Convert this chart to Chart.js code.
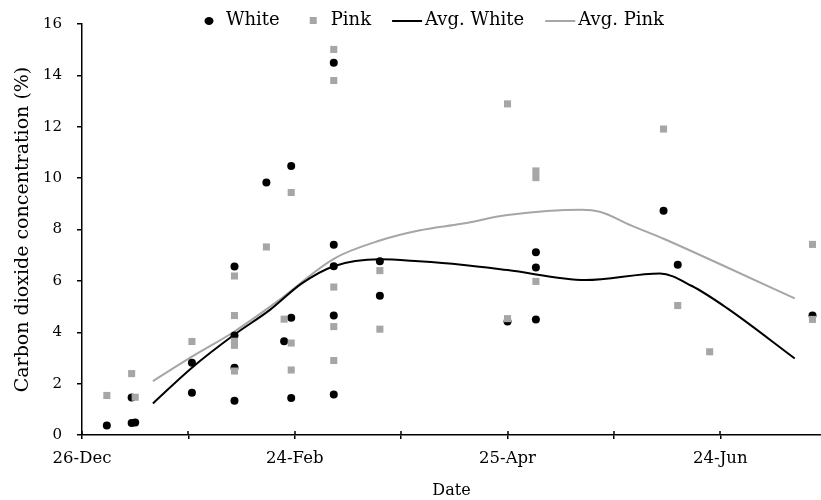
<!DOCTYPE html>
<html>
<head>
<meta charset="utf-8">
<script src="https://cdn.jsdelivr.net/npm/chart.js@4.4.1/dist/chart.umd.min.js"></script>
<style>
  html, body { margin: 0; padding: 0; background: #fff; }
</style>
</head>
<body>
<canvas id="chart" width="821" height="500"></canvas>
<script>
// x values are days counted from 26-Dec
const tickDays = [0, 30, 60, 90, 120, 150, 180];
const tickLabels = ['26-Dec', '', '24-Feb', '', '25-Apr', '', '24-Jun'];

const whiteDay = [7, 14, 14, 15, 31, 31, 43, 43, 43, 43, 52, 57, 59, 59, 59, 71, 71, 71, 71, 71, 84, 84, 120, 128, 128, 128, 164, 168, 206];
const whiteCO2 = [0.37, 1.46, 0.47, 0.49, 2.81, 1.64, 6.56, 3.87, 2.62, 1.33, 9.83, 3.65, 10.47, 4.56, 1.44, 14.49, 7.41, 6.57, 4.65, 1.58, 6.76, 5.42, 4.42, 7.11, 6.52, 4.50, 8.73, 6.63, 4.65];

const pinkDay = [7, 14, 15, 31, 43, 43, 43, 43, 43, 52, 57, 59, 59, 59, 71, 71, 71, 71, 71, 84, 84, 120, 120, 128, 128, 128, 164, 168, 177, 206, 206];
const pinkCO2 = [1.54, 2.39, 1.47, 3.64, 6.19, 4.65, 3.65, 3.49, 2.49, 7.32, 4.51, 9.44, 3.58, 2.53, 15.01, 13.80, 5.76, 4.22, 2.90, 6.40, 4.12, 12.89, 4.53, 10.28, 10.02, 5.98, 11.91, 5.04, 3.24, 7.42, 4.50];

const avgWhiteDay = [20, 31, 43, 53, 62, 71, 84, 95, 107, 120, 142, 163, 172, 182, 201];
const avgWhiteCO2 = [1.23, 2.62, 3.91, 4.87, 5.90, 6.57, 6.84, 6.76, 6.63, 6.42, 6.03, 6.29, 5.80, 4.93, 2.98];

const avgPinkDay = [20, 31, 43, 55, 71, 84, 95, 107, 120, 141, 146, 155, 164, 182, 201];
const avgPinkCO2 = [2.10, 3.05, 4.03, 5.19, 6.86, 7.57, 7.96, 8.22, 8.56, 8.77, 8.69, 8.15, 7.64, 6.52, 5.32];

const FONT = '"DejaVu Serif", serif';
const GREY = '#a6a6a6';

const toXY = (xs, ys) => xs.map((x, i) => ({ x: x, y: ys[i] }));

// legend drawn in one row over the top of the plot, like the original
const topLegend = {
    id: 'topLegend',
    afterDraw(chart) {
        const ctx = chart.ctx;
        const y = 20;
        let x = 205;
        ctx.save();
        ctx.font = '18px ' + FONT;
        ctx.textBaseline = 'middle';
        chart.data.datasets.forEach((ds, i) => {
            if (ds.showLine) {
                if (i > 0) x += 21;
                ctx.strokeStyle = ds.borderColor;
                ctx.lineWidth = ds.borderWidth;
                ctx.beginPath();
                ctx.moveTo(x, y + 1);
                ctx.lineTo(x + 30, y + 1);
                ctx.stroke();
                x += 33;
            } else {
                if (i > 0) x += 30;
                ctx.fillStyle = ds.backgroundColor;
                ctx.beginPath();
                if (ds.pointStyle === 'rect') {
                    ctx.rect(x, y - 3, 7, 7);
                } else {
                    ctx.ellipse(x + 4, y + 1, 4.5, 4, 0, 0, Math.PI * 2);
                }
                ctx.fill();
                x += 21;
            }
            ctx.fillStyle = '#000';
            ctx.fillText(ds.label, x, y);
            x += ctx.measureText(ds.label).width;
        });

        // x tick marks cross the axis line
        const xs = chart.scales.x;
        const yb = chart.chartArea.bottom;
        ctx.strokeStyle = '#000';
        ctx.lineWidth = 1.5;
        xs.ticks.forEach(t => {
            const px = Math.round(xs.getPixelForValue(t.value));
            ctx.beginPath();
            ctx.moveTo(px, yb - 4);
            ctx.lineTo(px, yb);
            ctx.stroke();
        });
        ctx.restore();
    }
};

new Chart(document.getElementById('chart'), {
    type: 'scatter',
    data: {
        datasets: [
            {
                label: 'White',
                data: toXY(whiteDay, whiteCO2),
                pointStyle: 'circle',
                pointRadius: 4,
                backgroundColor: '#000',
                borderColor: '#000',
                borderWidth: 0,
                order: 1
            },
            {
                label: 'Pink',
                data: toXY(pinkDay, pinkCO2),
                pointStyle: 'rect',
                pointRadius: 5,
                backgroundColor: GREY,
                borderColor: GREY,
                borderWidth: 0,
                order: 0
            },
            {
                label: 'Avg. White',
                data: toXY(avgWhiteDay, avgWhiteCO2),
                showLine: true,
                pointRadius: 0,
                borderColor: '#000',
                borderWidth: 2,
                cubicInterpolationMode: 'monotone',
                order: 2
            },
            {
                label: 'Avg. Pink',
                data: toXY(avgPinkDay, avgPinkCO2),
                showLine: true,
                pointRadius: 0,
                borderColor: GREY,
                borderWidth: 2,
                cubicInterpolationMode: 'monotone',
                order: 3
            }
        ]
    },
    options: {
        responsive: false,
        animation: false,
        devicePixelRatio: 1,
        layout: { autoPadding: false, padding: { top: 20, right: 0, bottom: 0, left: 0 } },
        plugins: {
            legend: { display: false },
            tooltip: { enabled: false }
        },
        scales: {
            x: {
                type: 'linear',
                min: 0,
                max: 208.4,
                afterBuildTicks: axis => { axis.ticks = tickDays.map(v => ({ value: v })); },
                afterFit: s => { s.height = 65; },
                grid: { drawOnChartArea: false, tickLength: 4, color: '#000', lineWidth: 1.5 },
                border: { color: '#000', width: 1.5 },
                ticks: {
                    autoSkip: false,
                    maxRotation: 0,
                    padding: 10,
                    color: '#000',
                    font: { family: FONT, size: 16.5 },
                    callback: v => {
                        const i = tickDays.indexOf(v);
                        return i < 0 ? '' : tickLabels[i];
                    }
                },
                title: {
                    display: true,
                    text: 'Date',
                    color: '#000',
                    font: { family: FONT, size: 16 },
                    padding: { top: 0, bottom: 0 }
                }
            },
            y: {
                min: 0,
                max: 16,
                afterFit: s => { s.width = 82; },
                grid: { drawOnChartArea: false, tickLength: 5, color: '#000', lineWidth: 1.5 },
                border: { color: '#000', width: 1.5 },
                ticks: {
                    stepSize: 2,
                    padding: 15,
                    color: '#000',
                    font: { family: FONT, size: 15 }
                },
                title: {
                    display: true,
                    text: 'Carbon dioxide concentration (%)',
                    color: '#000',
                    font: { family: FONT, size: 19 },
                    padding: { top: 12, bottom: 0 }
                }
            }
        }
    },
    plugins: [topLegend]
});
</script>
</body>
</html>
